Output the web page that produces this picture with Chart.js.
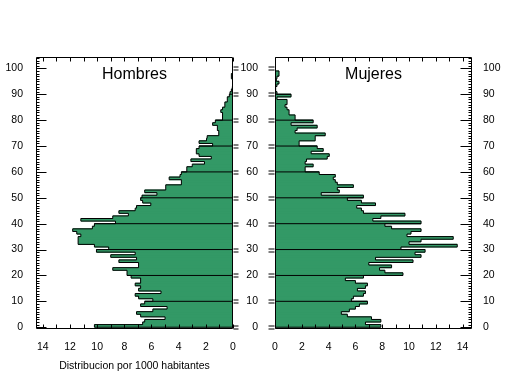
<!DOCTYPE html>
<html>
<head>
<meta charset="utf-8">
<script src="https://cdn.jsdelivr.net/npm/chart.js@4.4.1/dist/chart.umd.min.js"></script>
<style>
  html, body { margin: 0; padding: 0; background: #fff; }
  .wrap { position: relative; width: 509px; height: 376px; }
  canvas { position: absolute; left: 0; top: 0; }
</style>
</head>
<body>
<div class="wrap">
  <canvas id="hombres" width="509" height="376"></canvas>
  <canvas id="mujeres" width="509" height="376"></canvas>
</div>
<script>
// edades 0..100
const ages = Array.from({length: 101}, (_, i) => i);

// distribucion por 1000 habitantes, por edad
const hombres = [
  10.2, 6.65, 6.5, 5.0, 6.8, 7.1, 5.9, 4.85, 6.8, 6.5,
  5.9, 6.95, 7.2, 5.3, 6.95, 6.8, 7.2, 6.8, 6.8, 7.5,
  7.8, 7.8, 8.85, 6.95, 6.95, 8.4, 7.1, 9.0, 7.2, 10.05,
  9.15, 10.2, 11.4, 11.4, 11.4, 11.2, 11.5, 11.8, 10.35, 10.2,
  8.65, 11.2, 8.85, 7.7, 8.4, 7.2, 7.1, 6.05, 6.65, 6.8,
  6.7, 5.6, 6.5, 4.95, 4.95, 3.8, 3.8, 4.7, 3.9, 3.8,
  3.4, 3.4, 3.0, 2.1, 3.1, 1.6, 2.5, 2.7, 2.7, 2.5,
  1.5, 2.5, 1.95, 1.9, 1.05, 1.05, 1.15, 1.15, 1.5, 1.3,
  0.77, 0.77, 0.77, 0.9, 0.77, 0.6, 0.6, 0.42, 0.42, 0.27,
  0.22, 0.12, 0.05, 0, 0, 0, 0.12, 0.12, 0, 0,
  0
];
const mujeres = [
  7.9, 6.75, 7.9, 7.2, 5.4, 4.95, 5.55, 6.0, 6.3, 6.9,
  5.7, 5.85, 6.6, 6.75, 6.15, 6.75, 6.9, 6.0, 5.25, 6.6,
  9.55, 8.2, 7.8, 8.7, 7.0, 10.3, 7.5, 10.9, 10.45, 11.2,
  9.4, 13.6, 10.0, 10.9, 13.3, 9.85, 10.15, 10.9, 8.7, 8.2,
  10.9, 7.3, 7.9, 9.7, 6.6, 6.45, 6.1, 7.5, 6.45, 5.4,
  6.6, 3.45, 4.8, 4.65, 5.85, 4.65, 4.5, 4.35, 4.5, 3.3,
  2.25, 2.25, 2.85, 2.25, 2.35, 3.9, 4.05, 2.7, 3.6, 3.15,
  1.8, 1.8, 3.0, 3.0, 3.75, 1.5, 1.65, 3.15, 1.2, 2.85,
  1.5, 1.5, 1.05, 1.05, 0.9, 0.75, 0.9, 0.9, 0.15, 1.2,
  0.15, 0.05, 0.05, 0.15, 0.3, 0.1, 0.15, 0.3, 0.3, 0,
  0
];

const decades = [10, 20, 30, 40, 50, 60, 70, 80, 90];
const xTitle = 'Distribucion por 1000 habitantes';

const GREEN = '#339966';
const FONT = 'Arial, "Liberation Sans", sans-serif';
const tickFont = { family: FONT, size: 10.5 };

// contorno escalonado de la piramide
function outline(values) {
  let pts = [{x: 0, y: 0}];
  values.forEach((v, i) => {
    pts.push({x: v, y: ages[i]});
    pts.push({x: v, y: ages[i] + 1});
  });
  pts.push({x: 0, y: ages[ages.length - 1] + 1});
  return pts;
}

// lineas horizontales de cada decada, solo dentro de las barras
function decadeLines(values) {
  let pts = [];
  decades.forEach(a => {
    pts.push({x: 0, y: a}, {x: Math.max(values[a - 1], values[a]), y: a}, {x: null, y: null});
  });
  return pts;
}

const frame = {
  id: 'frame',
  afterDraw(chart) {
    const o = chart.options.plugins.frame;
    const {ctx, chartArea: a, scales} = chart;
    const x = scales.x, y = scales.y;
    const L = Math.round(a.left) + 0.5, R = Math.round(a.right) - 0.5;
    const T = Math.round(a.top) + 0.5, B = Math.round(a.bottom) - 0.5;
    ctx.save();
    ctx.strokeStyle = '#000';
    ctx.lineWidth = 1;
    ctx.beginPath();
    ctx.rect(L, T, R - L, B - T);
    // x ticks, inward, every unit
    for (let v = 0; v <= 14; v++) {
      let px = Math.round(x.getPixelForValue(v)) + 0.5;
      ctx.moveTo(px, T); ctx.lineTo(px, T + 4);
      ctx.moveTo(px, B); ctx.lineTo(px, B - 4);
    }
    // y ticks
    for (let age = 0; age <= 104; age++) {
      let py = Math.round(y.getPixelForValue(age)) + 0.5;
      let major = age % 10 === 0;
      if (o.inLeft) { ctx.moveTo(L, py); ctx.lineTo(L + (major ? 10 : 3), py); }
      if (o.inRight) { ctx.moveTo(R, py); ctx.lineTo(R - (major ? 11 : 3), py); }
      if (major && age <= 100) {
        if (o.dblRight) {
          ctx.moveTo(R + 1, py - 1.5); ctx.lineTo(R + 6, py - 1.5);
          ctx.moveTo(R + 1, py + 1.5); ctx.lineTo(R + 6, py + 1.5);
        }
        if (o.dblLeft) {
          ctx.moveTo(L - 7, py - 1.5); ctx.lineTo(L - 1, py - 1.5);
          ctx.moveTo(L - 7, py + 1.5); ctx.lineTo(L - 1, py + 1.5);
        }
      }
    }
    ctx.stroke();
    ctx.fillStyle = '#000';
    ctx.font = '16px ' + FONT;
    ctx.textAlign = 'center';
    ctx.textBaseline = 'middle';
    ctx.fillText(o.title, (a.left + a.right) / 2, a.top + 18);
    ctx.restore();
  }
};

function yScale(position, padding, width) {
  return {
    type: 'linear',
    position: position,
    min: -0.5,
    max: 104.4,
    offset: false,
    grid: { display: false, drawTicks: false, offset: false },
    border: { display: false },
    ticks: { stepSize: 10, includeBounds: false, padding: padding, font: tickFont, color: '#000' },
    afterFit: s => { s.width = width; }
  };
}

function makeChart(id, values, left) {
  let scales = {
    x: {
      type: 'linear',
      position: 'bottom',
      reverse: left,
      offset: false,
      min: 0,
      max: left ? 14.5 : 14.7,
      grid: { display: false, drawTicks: false, offset: false },
      border: { display: false },
      ticks: { stepSize: 2, includeBounds: false, padding: 12, font: tickFont, color: '#000', maxRotation: 0, autoSkip: false },
      title: { display: left, text: xTitle, font: tickFont, color: '#000', padding: { top: 0, bottom: 4 } },
      afterFit: s => { s.height = 47.5; }
    },
    y: left ? yScale('left', 13, 36) : yScale('left', 17, 40)
  };
  if (!left) scales.y2 = yScale('right', 11, 37);

  return new Chart(document.getElementById(id), {
    type: 'bar',
    data: {
      datasets: [
        {
          type: 'line',
          data: outline(values),
          borderColor: '#000',
          borderWidth: 1,
          pointRadius: 0,
          fill: false,
          tension: 0,
          order: 1
        },
        {
          type: 'line',
          data: decadeLines(values),
          borderColor: '#000',
          borderWidth: 1,
          pointRadius: 0,
          fill: false,
          spanGaps: false,
          order: 2
        },
        {
          type: 'bar',
          indexAxis: 'y',
          data: values.map((v, i) => ({x: v, y: ages[i] + 0.5})),
          backgroundColor: GREEN,
          borderWidth: 0,
          barPercentage: 1.4,
          categoryPercentage: 1,
          order: 3
        }
      ]
    },
    options: {
      responsive: false,
      animation: false,
      events: [],
      layout: { padding: left ? { left: 0, top: 57, right: 276, bottom: 0 } : { left: 235, top: 57, right: 0, bottom: 0 } },
      scales: scales,
      plugins: {
        legend: { display: false },
        tooltip: { enabled: false },
        frame: left
          ? { title: 'Hombres', inLeft: true, dblRight: true }
          : { title: 'Mujeres', inRight: true, dblLeft: true }
      }
    },
    plugins: [frame]
  });
}

makeChart('hombres', hombres, true);
makeChart('mujeres', mujeres, false);
</script>
</body>
</html>
